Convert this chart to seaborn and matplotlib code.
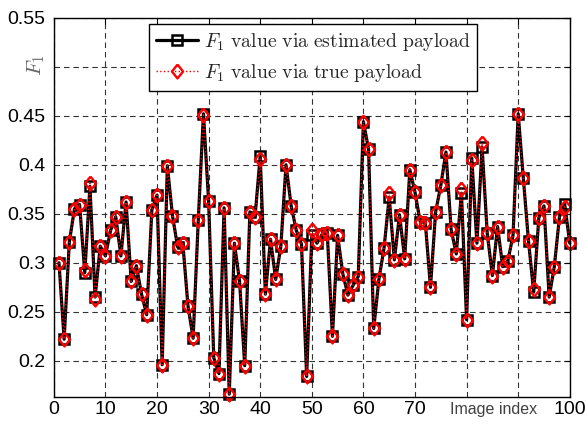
import matplotlib
matplotlib.use("Agg")
import matplotlib.pyplot as plt
import numpy as np
import pandas as pd
import seaborn as sns

# image index 1..100
image_index = list(range(1, 101))

# F1 via estimated payload (black squares)
f1_estimated = [
    0.300, 0.222, 0.321, 0.355, 0.359, 0.290, 0.378, 0.265, 0.317, 0.307,
    0.333, 0.347, 0.307, 0.362, 0.281, 0.297, 0.268, 0.247, 0.354, 0.369,
    0.196, 0.399, 0.348, 0.316, 0.320, 0.256, 0.223, 0.344, 0.452, 0.363,
    0.203, 0.187, 0.356, 0.166, 0.320, 0.281, 0.195, 0.352, 0.347, 0.409,
    0.268, 0.324, 0.283, 0.317, 0.400, 0.358, 0.333, 0.319, 0.184, 0.328,
    0.320, 0.329, 0.330, 0.225, 0.328, 0.289, 0.267, 0.277, 0.286, 0.444,
    0.416, 0.233, 0.283, 0.315, 0.367, 0.303, 0.349, 0.304, 0.395, 0.372,
    0.342, 0.341, 0.275, 0.352, 0.379, 0.413, 0.334, 0.309, 0.371, 0.242,
    0.407, 0.320, 0.418, 0.330, 0.287, 0.337, 0.296, 0.302, 0.328, 0.452,
    0.386, 0.322, 0.270, 0.346, 0.358, 0.265, 0.296, 0.347, 0.360, 0.320,
]

# F1 via true payload (red diamonds)
f1_true = [
    0.300, 0.222, 0.321, 0.355, 0.359, 0.293, 0.381, 0.263, 0.317, 0.307,
    0.333, 0.347, 0.307, 0.362, 0.281, 0.297, 0.268, 0.247, 0.354, 0.369,
    0.196, 0.399, 0.348, 0.316, 0.320, 0.256, 0.223, 0.344, 0.451, 0.363,
    0.203, 0.187, 0.356, 0.166, 0.320, 0.281, 0.195, 0.352, 0.347, 0.406,
    0.268, 0.324, 0.283, 0.317, 0.400, 0.358, 0.333, 0.319, 0.184, 0.333,
    0.320, 0.329, 0.330, 0.225, 0.328, 0.289, 0.267, 0.277, 0.286, 0.444,
    0.416, 0.233, 0.283, 0.315, 0.371, 0.303, 0.349, 0.304, 0.395, 0.372,
    0.342, 0.341, 0.275, 0.352, 0.379, 0.413, 0.334, 0.309, 0.375, 0.242,
    0.405, 0.320, 0.422, 0.330, 0.287, 0.337, 0.296, 0.302, 0.328, 0.452,
    0.386, 0.322, 0.273, 0.346, 0.358, 0.265, 0.296, 0.347, 0.357, 0.320,
]

x_ticks = [0, 10, 20, 30, 40, 50, 60, 70, 80, 90, 100]
x_tick_labels = ["0", "10", "20", "30", "40", "50", "60", "70", "", "", "100"]
y_ticks = [0.2, 0.25, 0.3, 0.35, 0.4, 0.45, 0.5, 0.55]
y_tick_labels = ["0.2", "0.25", "0.3", "0.35", "0.4", "0.45", "", "0.55"]

df = pd.DataFrame({"idx": image_index, "est": f1_estimated, "true": f1_true})

sns.set_style("white")
plt.rcParams["font.family"] = ["Liberation Sans", "DejaVu Sans"]
plt.rcParams["mathtext.fontset"] = "cm"

fig = plt.figure(figsize=(5.85, 4.33), dpi=100)
ax = fig.add_axes([0.092, 0.083, 0.882, 0.876])

# diamond a bit narrower than tall, like the matlab one
diamond = [(0, 1), (0.8, 0), (0, -1), (-0.8, 0), (0, 1)]

sns.lineplot(data=df, x="idx", y="est", ax=ax, color="k", lw=2.3,
             marker="s", ms=6.5, mfc="none", mec="k", mew=1.8, clip_on=False,
             label=r"$F_1\ \mathrm{value\ via\ estimated\ payload}$")
sns.lineplot(data=df, x="idx", y="true", ax=ax, color="red", lw=1.0,
             linestyle=":", marker=diamond, ms=10, mfc="none", mec="red",
             mew=1.7, clip_on=False,
             label=r"$F_1\ \mathrm{value\ via\ true\ payload}$")

ax.set_xlim(0, 100)
ax.set_ylim(0.163, 0.55)
ax.set_xticks(x_ticks)
ax.set_xticklabels(x_tick_labels)
ax.set_yticks(y_ticks)
ax.set_yticklabels(y_tick_labels)
ax.tick_params(direction="in", length=4, width=0.8, labelsize=14,
               top=True, right=True, colors="k")
ax.tick_params(axis="x", pad=3)
ax.tick_params(axis="y", pad=6)

ax.grid(True, color="0.2", linestyle=(0, (5, 3.5)), linewidth=0.8)
for s in ax.spines.values():
    s.set_color("k")
    s.set_linewidth(1.0)

ax.set_xlabel("Image index", fontsize=11.5, color="0.25")
ax.xaxis.set_label_coords(0.853, -0.013)
ax.set_ylabel(r"$F_1$", fontsize=15, color="0.4")
ax.yaxis.set_label_coords(-0.013, 0.875)

leg = ax.legend(loc="upper center", bbox_to_anchor=(0.503, 0.983),
                borderaxespad=0, fontsize=14.2, fancybox=False, framealpha=1,
                edgecolor="k", handlelength=2.1, labelspacing=0.45,
                borderpad=0.35, handletextpad=0.3)
leg.get_frame().set_linewidth(1.0)

fig.savefig("out.png", dpi=100)
